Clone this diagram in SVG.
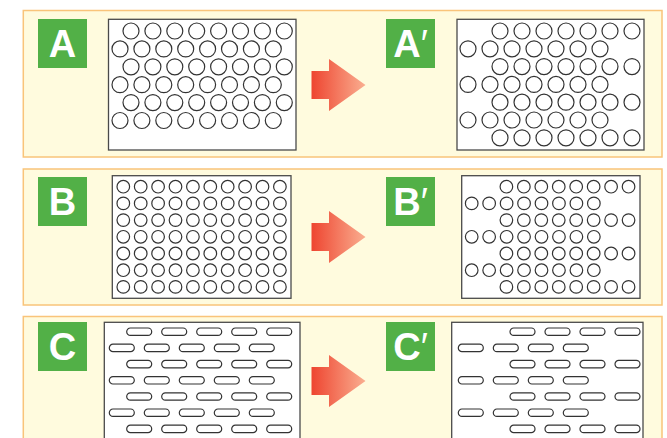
<svg xmlns="http://www.w3.org/2000/svg" xmlns:xlink="http://www.w3.org/1999/xlink" width="667" height="438" viewBox="0 0 667 438">
<style>
.panel{fill:#FFFBDE;stroke:#F9C47A;stroke-width:1.5}
.plate{fill:#FFFFFF;stroke:#4A4A4A;stroke-width:1.3}
.hole{fill:#FFFFFF;stroke:#333333;stroke-width:1.2}
.tag{fill:#52B047}
.tagtxt{fill:#FFFFFF;font-family:"Liberation Sans",Arial,sans-serif;font-weight:bold;font-size:38px;text-anchor:middle}
.pr{font-weight:normal}
.arrow{fill:url(#arrowGrad)}
</style>
<defs>
<linearGradient id="arrowGrad" x1="0" y1="0" x2="1" y2="0">
<stop offset="0" stop-color="#EE4530"/>
<stop offset="1" stop-color="#FAAE90"/>
</linearGradient>
<g id="rowA8" class="hole"><circle cx="0" cy="0" r="8"/><circle cx="21.9" cy="0" r="8"/><circle cx="43.8" cy="0" r="8"/><circle cx="65.7" cy="0" r="8"/><circle cx="87.6" cy="0" r="8"/><circle cx="109.5" cy="0" r="8"/><circle cx="131.4" cy="0" r="8"/><circle cx="153.3" cy="0" r="8"/></g>
<g id="rowA7" class="hole"><circle cx="0" cy="0" r="8"/><circle cx="22" cy="0" r="8"/><circle cx="44" cy="0" r="8"/><circle cx="66" cy="0" r="8"/><circle cx="88" cy="0" r="8"/><circle cx="110" cy="0" r="8"/><circle cx="132" cy="0" r="8"/></g>
<g id="rowB10" class="hole"><circle cx="0" cy="0" r="6.3"/><circle cx="17.4" cy="0" r="6.3"/><circle cx="34.8" cy="0" r="6.3"/><circle cx="52.2" cy="0" r="6.3"/><circle cx="69.6" cy="0" r="6.3"/><circle cx="87" cy="0" r="6.3"/><circle cx="104.4" cy="0" r="6.3"/><circle cx="121.8" cy="0" r="6.3"/><circle cx="139.2" cy="0" r="6.3"/><circle cx="156.6" cy="0" r="6.3"/></g>
<g id="rowB8" class="hole"><circle cx="0" cy="0" r="6.3"/><circle cx="17.45" cy="0" r="6.3"/><circle cx="34.9" cy="0" r="6.3"/><circle cx="52.35" cy="0" r="6.3"/><circle cx="69.8" cy="0" r="6.3"/><circle cx="87.25" cy="0" r="6.3"/><circle cx="104.7" cy="0" r="6.3"/><circle cx="122.15" cy="0" r="6.3"/></g>
<g id="rowC5" class="hole"><rect x="0" y="-3.7" width="25" height="7.4" rx="3.7"/><rect x="35" y="-3.7" width="25" height="7.4" rx="3.7"/><rect x="70" y="-3.7" width="25" height="7.4" rx="3.7"/><rect x="105" y="-3.7" width="25" height="7.4" rx="3.7"/><rect x="140" y="-3.7" width="25" height="7.4" rx="3.7"/></g>
<g id="rowC4" class="hole"><rect x="0" y="-3.7" width="25" height="7.4" rx="3.7"/><rect x="35" y="-3.7" width="25" height="7.4" rx="3.7"/><rect x="70" y="-3.7" width="25" height="7.4" rx="3.7"/><rect x="105" y="-3.7" width="25" height="7.4" rx="3.7"/></g>
</defs>

<g id="panelA">
<rect class="panel" x="23.3" y="10.5" width="638.7" height="146.5"/>
<g id="tagA"><rect class="tag" x="38" y="19" width="49" height="49"/><text class="tagtxt" x="62.5" y="57">A</text></g>
<g id="plateA">
<rect class="plate" x="108.5" y="19.3" width="187.5" height="130.7"/>
<use xlink:href="#rowA8" x="131" y="31"/>
<use xlink:href="#rowA8" x="120" y="48.9"/>
<use xlink:href="#rowA8" x="131" y="66.8"/>
<use xlink:href="#rowA8" x="120" y="84.7"/>
<use xlink:href="#rowA8" x="131" y="102.6"/>
<use xlink:href="#rowA8" x="120" y="120.5"/>
</g>
<g id="tagA2"><rect class="tag" x="386" y="19" width="49" height="49"/><text class="tagtxt" x="410.5" y="57">A<tspan class="pr">′</tspan></text></g>
<g id="plateA2">
<rect class="plate" x="457" y="19.3" width="187" height="130.7"/>
<use xlink:href="#rowA7" x="500" y="31"/>
<use xlink:href="#rowA7" x="468" y="48.8"/>
<use xlink:href="#rowA7" x="500" y="66.6"/>
<use xlink:href="#rowA7" x="468" y="84.4"/>
<use xlink:href="#rowA7" x="500" y="102.2"/>
<use xlink:href="#rowA7" x="468" y="120"/>
<use xlink:href="#rowA7" x="500" y="137.8"/>
</g>
</g>

<g id="panelB">
<rect class="panel" x="23.3" y="169" width="638.7" height="136"/>
<g id="tagB"><rect class="tag" x="38" y="177" width="49" height="49"/><text class="tagtxt" x="62.5" y="215">B</text></g>
<g id="plateB">
<rect class="plate" x="112.3" y="175.7" width="178.7" height="122.6"/>
<use xlink:href="#rowB10" x="123.3" y="186.7"/>
<use xlink:href="#rowB10" x="123.3" y="203.4"/>
<use xlink:href="#rowB10" x="123.3" y="220.1"/>
<use xlink:href="#rowB10" x="123.3" y="236.8"/>
<use xlink:href="#rowB10" x="123.3" y="253.5"/>
<use xlink:href="#rowB10" x="123.3" y="270.2"/>
<use xlink:href="#rowB10" x="123.3" y="286.9"/>
</g>
<g id="tagB2"><rect class="tag" x="386" y="177" width="49" height="49"/><text class="tagtxt" x="410.5" y="215">B<tspan class="pr">′</tspan></text></g>
<g id="plateB2">
<rect class="plate" x="461.7" y="175.7" width="178.3" height="122.6"/>
<use xlink:href="#rowB8" x="506.4" y="186.7"/>
<use xlink:href="#rowB8" x="471.7" y="203.4"/>
<use xlink:href="#rowB8" x="506.4" y="220.1"/>
<use xlink:href="#rowB8" x="471.7" y="236.8"/>
<use xlink:href="#rowB8" x="506.4" y="253.5"/>
<use xlink:href="#rowB8" x="471.7" y="270.2"/>
<use xlink:href="#rowB8" x="506.4" y="286.9"/>
</g>
</g>

<g id="panelC">
<rect class="panel" x="23.3" y="316.5" width="638.7" height="130"/>
<g id="tagC"><rect class="tag" x="38" y="322" width="49" height="49"/><text class="tagtxt" x="62.5" y="360">C</text></g>
<g id="plateC">
<rect class="plate" x="104.3" y="322.3" width="195.7" height="125"/>
<use xlink:href="#rowC5" x="126.7" y="331.7"/>
<use xlink:href="#rowC5" x="109.3" y="347.9"/>
<use xlink:href="#rowC5" x="126.7" y="364.1"/>
<use xlink:href="#rowC5" x="109.3" y="380.3"/>
<use xlink:href="#rowC5" x="126.7" y="396.5"/>
<use xlink:href="#rowC5" x="109.3" y="412.7"/>
<use xlink:href="#rowC5" x="126.7" y="428.9"/>
</g>
<g id="tagC2"><rect class="tag" x="386" y="322" width="49" height="49"/><text class="tagtxt" x="410.5" y="360">C<tspan class="pr">′</tspan></text></g>
<g id="plateC2">
<rect class="plate" x="451.7" y="322.3" width="191.3" height="125"/>
<use xlink:href="#rowC4" x="510" y="331.7"/>
<use xlink:href="#rowC4" x="458.3" y="347.9"/>
<use xlink:href="#rowC4" x="510" y="364.1"/>
<use xlink:href="#rowC4" x="458.3" y="380.3"/>
<use xlink:href="#rowC4" x="510" y="396.5"/>
<use xlink:href="#rowC4" x="458.3" y="412.7"/>
<use xlink:href="#rowC4" x="510" y="428.9"/>
</g>
</g>

<g id="connectors">
<path class="arrow" d="M311.5,71 H329 V59 L365.5,85 L329,111 V99 H311.5 Z"/>
<path class="arrow" d="M311.5,223 H329 V211 L365.5,237 L329,263 V251 H311.5 Z"/>
<path class="arrow" d="M311.5,367 H329 V355 L365.5,381 L329,407 V395 H311.5 Z"/>
</g>
</svg>
